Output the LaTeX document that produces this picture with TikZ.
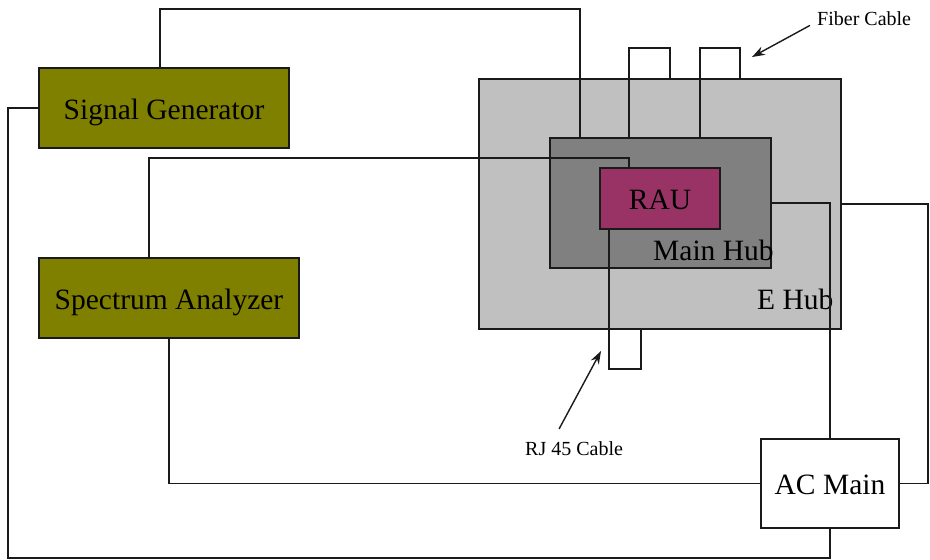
\documentclass[tikz,border=0pt]{standalone}
\usepackage{fontspec}
\setmainfont{Liberation Serif}
\usetikzlibrary{arrows.meta,calc}
\definecolor{olivebox}{HTML}{808000}
\definecolor{ehubgray}{HTML}{C0C0C0}
\definecolor{mhubgray}{HTML}{808080}
\definecolor{rauplum}{HTML}{993366}
\definecolor{linegray}{HTML}{1A1A1A}
\tikzset{
  box/.style={draw=linegray, line width=1.7pt, inner sep=0pt, text height=22pt, text depth=0pt,
              font=\fontsize{29.5}{34}\selectfont},
  wire/.style={draw=linegray, line width=1.7pt},
  biglabel/.style={inner sep=0pt, anchor=base west, font=\fontsize{29.5}{34}\selectfont},
  smalllabel/.style={inner sep=0pt, anchor=base west, font=\fontsize{20}{24}\selectfont},
  pointer/.style={draw=linegray, line width=1.4pt, -{Stealth[length=13pt,width=9pt]}}
}
\begin{document}
\begin{tikzpicture}[x=1pt,y=-1pt]
\useasboundingbox[fill=white] (0,0) rectangle (930,560);
% boxes
\node[box, fill=olivebox, minimum width=250pt, minimum height=80pt] (sg) at (164,108) {Signal Generator};
\node[box, fill=olivebox, minimum width=260pt, minimum height=80pt] (sa) at (169,298) {Spectrum Analyzer};
\node[box, fill=ehubgray, minimum width=362pt, minimum height=250pt] (eh) at (660,204) {};
\node[box, fill=mhubgray, minimum width=221pt, minimum height=130pt] (mh) at (660.5,203) {};
\node[box, fill=rauplum, minimum width=120pt, minimum height=61pt] (rau) at (660,198.5) {RAU};
\node[box, fill=white, minimum width=138pt, minimum height=89pt] (ac) at (830,483.5) {AC Main};
% labels
\node[biglabel] (mhl) at (653,260) {Main Hub};
\node[biglabel] (ehl) at (757,309) {E Hub};
\node[smalllabel] (fc) at (817,25) {Fiber Cable};
\node[smalllabel] (rj) at (525,455) {RJ 45 Cable};
% named corner coordinates
\coordinate (sgtop) at (580,9);
\coordinate (blc) at (8,558);
\coordinate (satop) at (629,158);
\coordinate (rc) at (928,300);
\coordinate (f1) at (670,48);
\coordinate (f2) at (740,48);
\coordinate (rjc) at (641,369);
\coordinate (fctip) at (752,57);
\coordinate (rjtip) at (601,351);
% wires
\draw[wire] ([xshift=-4pt]sg.north) |- (sgtop) -- (sgtop |- mh.north);
\draw[wire] (sg.west) -| (blc) -| (ac.south);
\draw[wire] ([xshift=-20pt]sa.north) |- (satop) -- (satop |- rau.north);
\draw[wire] (sa.south) |- (ac.west);
\draw[wire] (ac.north) |- (mh.east);
\draw[wire] (ac.east) -| (rc) |- (eh.east);
\draw[wire] ([xshift=-31.5pt]mh.north) |- (f1) -- (f1 |- eh.north);
\draw[wire] ([xshift=39.5pt]mh.north) |- (f2) -- (f2 |- eh.north);
\draw[wire] ([xshift=-51pt]rau.south) |- (rjc) -- (rjc |- eh.south);
% pointers
\draw[pointer] ([xshift=-7pt]fc.south west) -- (fctip);
\draw[pointer] ([xshift=-15pt,yshift=12pt]rj.north) -- (rjtip);
\end{tikzpicture}
\end{document}
